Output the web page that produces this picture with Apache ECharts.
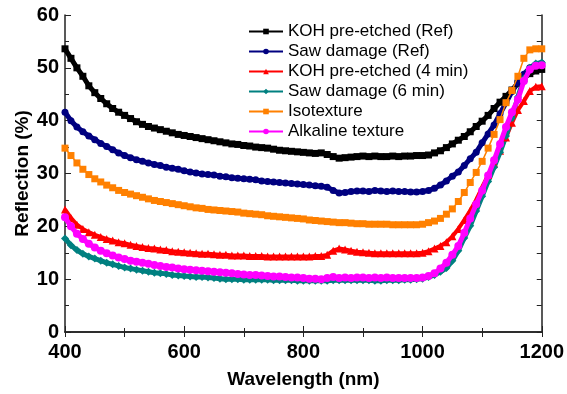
<!DOCTYPE html>
<html>
<head>
<meta charset="utf-8">
<script src="https://cdn.jsdelivr.net/npm/echarts@6/dist/echarts.min.js"></script>
<style>
  html, body { margin: 0; padding: 0; background: #fff; }
  #main { width: 567px; height: 394px; }
</style>
</head>
<body>
<div id="main"></div>
<script>
// wavelength grid (nm), 10 nm steps
var wavelength = [];
for (var w = 400; w <= 1200; w += 10) wavelength.push(w);

var kohRef = [53.6,51.8,50.0,48.4,46.6,45.3,44.2,43.2,42.3,41.6,
  41.0,40.4,39.8,39.3,38.9,38.6,38.3,38.0,37.7,37.4,
  37.2,37.0,36.8,36.6,36.4,36.2,36.0,35.8,35.6,35.5,
  35.3,35.2,35.0,34.9,34.8,34.6,34.4,34.3,34.2,34.1,
  34.0,33.9,33.8,33.9,33.6,33.2,32.9,33.0,33.1,33.2,
  33.3,33.2,33.3,33.2,33.2,33.3,33.2,33.3,33.3,33.4,
  33.4,33.5,33.9,34.3,34.9,35.6,36.3,37.0,37.9,38.9,
  39.9,41.0,42.3,43.5,44.6,45.8,47.1,48.0,48.9,49.4,49.7];

var sawRef = [41.6,40.0,38.8,37.9,37.1,36.4,35.7,35.1,34.5,33.9,
  33.4,33.0,32.6,32.3,32.0,31.7,31.5,31.2,31.0,30.8,
  30.5,30.3,30.1,29.9,29.8,29.7,29.5,29.4,29.2,29.1,
  29.0,28.9,28.8,28.6,28.5,28.4,28.3,28.2,28.1,28.0,
  27.9,27.8,27.7,27.6,27.4,26.8,26.3,26.4,26.6,26.7,
  26.7,26.6,26.8,26.7,26.6,26.7,26.6,26.6,26.5,26.5,
  26.6,26.8,27.2,27.8,28.6,29.5,30.3,31.5,32.8,34.0,
  35.8,37.5,39.2,41.3,43.4,45.5,47.2,48.8,50.0,50.6,50.8];

var koh4 = [23.2,21.6,20.3,19.5,18.9,18.4,18.0,17.6,17.3,17.0,
  16.8,16.5,16.3,16.1,15.9,15.8,15.6,15.5,15.3,15.2,
  15.1,15.0,14.9,14.8,14.8,14.7,14.6,14.6,14.5,14.5,
  14.5,14.4,14.4,14.4,14.3,14.3,14.3,14.3,14.3,14.3,
  14.3,14.3,14.4,14.4,14.6,15.4,15.8,15.6,15.4,15.2,
  15.1,15.0,14.9,14.9,14.9,14.9,14.9,14.9,14.9,14.9,
  15.0,15.3,15.8,16.3,17.0,18.1,19.5,21.2,23.0,25.0,
  27.4,29.7,31.9,34.3,36.8,39.6,42.0,43.7,45.6,46.4,46.5];

var saw6 = [17.7,16.4,15.5,14.8,14.3,13.9,13.5,13.1,12.8,12.5,
  12.2,12.0,11.8,11.6,11.4,11.2,11.1,11.0,10.8,10.7,
  10.6,10.5,10.4,10.4,10.3,10.2,10.1,10.0,10.0,10.0,
  9.9,9.9,9.9,9.9,9.9,9.8,9.8,9.8,9.8,9.7,
  9.7,9.7,9.7,9.7,9.7,9.8,9.8,9.8,9.8,9.8,
  9.8,9.8,9.7,9.7,9.8,9.8,9.8,9.9,9.9,10.0,
  10.1,10.4,10.8,11.4,12.1,13.5,15.4,17.8,20.1,22.9,
  25.7,28.5,31.2,34.0,37.1,40.5,44.5,48.0,50.0,50.8,51.0];

var isotexture = [34.8,33.4,32.0,30.8,29.8,29.0,28.4,27.8,27.3,26.8,
  26.4,26.1,25.8,25.5,25.2,24.9,24.7,24.5,24.3,24.1,
  23.9,23.7,23.5,23.4,23.2,23.1,23.0,22.9,22.8,22.7,
  22.5,22.4,22.3,22.2,22.0,21.9,21.8,21.7,21.6,21.5,
  21.4,21.2,21.1,21.0,20.9,20.8,20.7,20.7,20.6,20.5,
  20.5,20.4,20.4,20.4,20.4,20.3,20.3,20.3,20.3,20.3,
  20.4,20.7,21.0,21.5,22.3,23.3,24.7,26.4,28.3,30.2,
  32.3,34.8,37.4,40.2,43.4,45.7,48.4,51.8,53.4,53.6,53.6];

var alkaline = [21.7,20.0,18.6,17.6,16.7,16.0,15.4,14.9,14.5,14.1,
  13.8,13.5,13.3,13.1,12.9,12.7,12.5,12.3,12.2,12.0,
  11.9,11.8,11.7,11.6,11.5,11.4,11.3,11.2,11.1,11.0,
  10.9,10.8,10.8,10.7,10.6,10.5,10.5,10.4,10.3,10.3,
  10.2,10.1,10.1,10.0,10.2,10.4,10.2,10.3,10.2,10.3,
  10.3,10.2,10.3,10.2,10.3,10.2,10.2,10.2,10.2,10.2,
  10.3,10.6,11.1,12.0,13.1,14.6,16.3,18.8,21.5,24.2,
  26.8,29.6,32.5,35.6,38.8,41.6,44.0,47.5,49.7,50.4,50.5];

var seriesNames = ['KOH pre-etched (Ref)', 'Saw damage (Ref)', 'KOH pre-etched (4 min)',
  'Saw damage (6 min)', 'Isotexture', 'Alkaline texture'];

function pairs(vals) {
  return wavelength.map(function (w, i) { return [w, vals[i]]; });
}

var font = '"Liberation Sans", Arial, sans-serif';
var axisCol = '#222';

var chart = echarts.init(document.getElementById('main'), null, { renderer: 'canvas' });

function mkSeries(name, vals, color, symbol, size, lw, z) {
  return {
    name: name,
    type: 'line',
    data: pairs(vals),
    symbol: symbol,
    symbolSize: size,
    showAllSymbol: true,
    lineStyle: { color: color, width: lw },
    itemStyle: { color: color },
    z: z
  };
}

chart.setOption({
  animation: false,
  textStyle: { fontFamily: font },
  grid: { left: 65, right: 23, top: 15, bottom: 53 },
  legend: {
    orient: 'vertical',
    left: 243,
    top: 18,
    itemWidth: 34,
    itemHeight: 7,
    itemGap: 3,
    data: seriesNames,
    textStyle: { fontFamily: font, fontSize: 17, color: '#000' }
  },
  xAxis: [{
    type: 'value', min: 400, max: 1200, interval: 200,
    name: 'Wavelength (nm)', nameLocation: 'middle', nameGap: 38,
    nameTextStyle: { fontFamily: font, fontSize: 19, fontWeight: 'bold', color: '#000' },
    axisLine: { lineStyle: { color: axisCol, width: 1.5 } },
    axisTick: { inside: true, length: 6, lineStyle: { color: axisCol } },
    minorTick: { show: true, splitNumber: 2, length: 4, lineStyle: { color: axisCol } },
    axisLabel: { fontFamily: font, fontSize: 20, fontWeight: 'bold', color: '#000', margin: 10,
      formatter: function (v) { return String(v); } },
    splitLine: { show: false }
  }, {
    type: 'value', position: 'top', min: 400, max: 1200, interval: 100,
    axisLine: { lineStyle: { color: axisCol, width: 1.5 } },
    axisTick: { inside: true, length: 5, lineStyle: { color: axisCol } },
    axisLabel: { show: false },
    splitLine: { show: false }
  }],
  yAxis: [{
    type: 'value', min: 0, max: 60, interval: 10,
    name: 'Reflection (%)', nameLocation: 'middle', nameGap: 33, nameMoveOverlap: false,
    nameTextStyle: { fontFamily: font, fontSize: 19, fontWeight: 'bold', color: '#000' },
    axisLine: { show: true, lineStyle: { color: axisCol, width: 1.5 } },
    axisTick: { show: true, inside: true, length: 6, lineStyle: { color: axisCol } },
    minorTick: { show: true, splitNumber: 2, length: 4, lineStyle: { color: axisCol } },
    axisLabel: { fontFamily: font, fontSize: 20, fontWeight: 'bold', color: '#000', margin: 6 },
    splitLine: { show: false }
  }, {
    type: 'value', position: 'right', min: 0, max: 60, interval: 5,
    axisLine: { show: true, lineStyle: { color: axisCol, width: 1.5 } },
    axisTick: { show: true, inside: true, length: 5, lineStyle: { color: axisCol } },
    axisLabel: { show: false },
    splitLine: { show: false }
  }],
  series: [
    mkSeries(seriesNames[0], kohRef, '#000000', 'rect', 7, 5, 2),
    mkSeries(seriesNames[1], sawRef, '#000080', 'circle', 7, 5, 2),
    mkSeries(seriesNames[2], koh4, '#ff0000', 'triangle', 8, 4, 2),
    mkSeries(seriesNames[3], saw6, '#008080', 'diamond', 8, 5, 2),
    mkSeries(seriesNames[4], isotexture, '#ff8000', 'rect', 7, 1.5, 3),
    mkSeries(seriesNames[5], alkaline, '#ff00ff', 'circle', 8, 5, 4)
  ]
});
</script>
</body>
</html>
